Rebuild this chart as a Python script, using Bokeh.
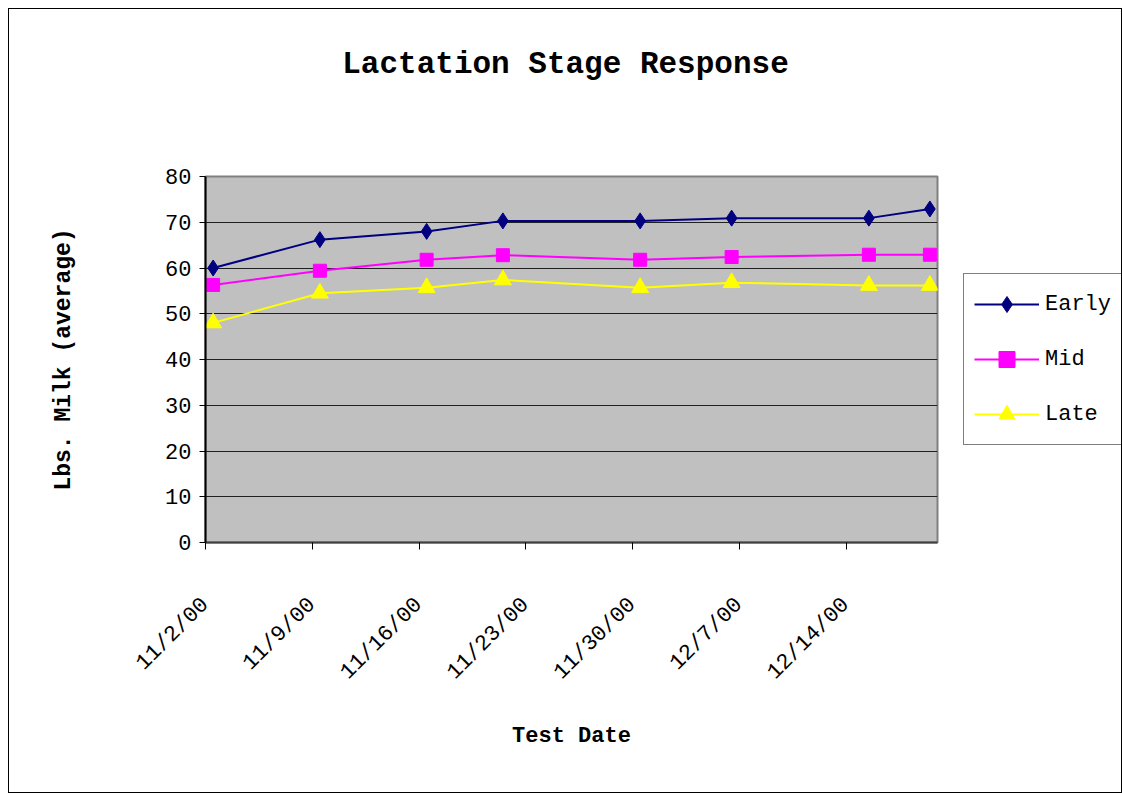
import pandas as pd
from bokeh.plotting import figure
from bokeh.models import Range1d, FixedTicker, Legend, LegendItem
from bokeh.layouts import column, row
from bokeh.embed import file_html
from bokeh.resources import INLINE
from math import pi

# ---- data ----
test_dates = ["2000-11-02", "2000-11-09", "2000-11-16", "2000-11-21",
              "2000-11-30", "2000-12-06", "2000-12-15", "2000-12-19"]
early = [60.0, 66.2, 68.0, 70.3, 70.3, 70.9, 70.9, 72.9]
mid = [56.3, 59.4, 61.8, 62.8, 61.8, 62.4, 62.9, 62.9]
late = [48.0, 54.5, 55.7, 57.4, 55.7, 56.8, 56.2, 56.2]
series_names = ["Early", "Mid", "Late"]
tick_dates = ["2000-11-02", "2000-11-09", "2000-11-16", "2000-11-23",
              "2000-11-30", "2000-12-07", "2000-12-14"]
tick_labels = ["11/2/00", "11/9/00", "11/16/00", "11/23/00",
               "11/30/00", "12/7/00", "12/14/00"]
y_ticks = [0, 10, 20, 30, 40, 50, 60, 70, 80]
axis_start, axis_end = "2000-11-02", "2000-12-20"

# points sit in the middle of their day slot (Excel date axis)
x = pd.to_datetime(test_dates) + pd.Timedelta(hours=12)

MONO = "Liberation Mono"
styles = [
    dict(color="#000080", marker="diamond", size=16),
    dict(color="#FF00FF", marker="square", size=13),
    dict(color="#FFFF00", marker="triangle", size=17),
]
series = [early, mid, late]

# ---------- title strip ----------
pt = figure(width=1112, height=120, output_backend="svg", toolbar_location=None,
            x_range=Range1d(0, 1), y_range=Range1d(0, 1),
            x_axis_location=None, y_axis_location=None,
            min_border_left=0, min_border_right=0,
            min_border_top=0, min_border_bottom=0)
pt.outline_line_color = None
pt.xgrid.visible = False
pt.ygrid.visible = False
pt.title.text = "Lactation Stage Response"
pt.title.align = "center"
pt.title.offset = 6
pt.title.text_font = MONO
pt.title.text_font_style = "bold"
pt.title.text_font_size = "31px"
pt.title.text_color = "black"
pt.title.standoff = 70

# ---------- main chart ----------
p = figure(width=933, height=663, output_backend="svg", toolbar_location=None,
           x_axis_type="datetime",
           x_range=Range1d(pd.Timestamp(axis_start), pd.Timestamp(axis_end)),
           y_range=Range1d(0, 80),
           min_border_left=196, min_border_right=5,
           min_border_top=47, min_border_bottom=250)

p.background_fill_color = "#C0C0C0"
p.border_fill_color = "white"
p.outline_line_color = "#808080"
p.outline_line_width = 2

p.xgrid.grid_line_color = None
p.ygrid.grid_line_color = "#202020"
p.ygrid.grid_line_width = 1
p.ygrid.ticker = FixedTicker(ticks=y_ticks)

tick_ms = [float(pd.Timestamp(d).value // 10**6) for d in tick_dates]
p.xaxis.ticker = FixedTicker(ticks=tick_ms)
p.xaxis.major_label_overrides = {t: l for t, l in zip(tick_ms, tick_labels)}
p.xaxis.major_label_orientation = pi / 4
p.xaxis.minor_tick_line_color = None
p.xaxis.major_tick_out = 7
p.xaxis.major_tick_in = 0
p.xaxis.axis_line_color = "#404040"
p.xaxis.axis_line_width = 2
p.xaxis.major_label_text_font = MONO
p.xaxis.major_label_text_font_size = "22px"
p.xaxis.major_label_text_color = "black"
p.xaxis.major_label_standoff = 52
p.xaxis.axis_label = "Test Date"
p.xaxis.axis_label_text_font = MONO
p.xaxis.axis_label_text_font_style = "bold"
p.xaxis.axis_label_text_font_size = "22px"
p.xaxis.axis_label_text_color = "black"
p.xaxis.axis_label_standoff = 27

p.yaxis.ticker = FixedTicker(ticks=y_ticks)
p.yaxis.minor_tick_line_color = None
p.yaxis.major_tick_out = 6
p.yaxis.major_tick_in = 0
p.yaxis.axis_line_color = "black"
p.yaxis.axis_line_width = 2
p.yaxis.major_label_text_font = MONO
p.yaxis.major_label_text_font_size = "22px"
p.yaxis.major_label_text_color = "black"
p.yaxis.major_label_standoff = 8
p.yaxis.axis_label = "Lbs. Milk (average)"
p.yaxis.axis_label_text_font = MONO
p.yaxis.axis_label_text_font_style = "bold"
p.yaxis.axis_label_text_font_size = "23px"
p.yaxis.axis_label_text_color = "black"
p.yaxis.axis_label_standoff = 85

for vals, st in zip(series, styles):
    p.line(x, vals, line_color=st["color"], line_width=2)
    p.scatter(x, vals, marker=st["marker"], size=st["size"],
              fill_color=st["color"], line_color=st["color"])

# ---------- legend strip (its frame aligns with the main chart's frame) ----------
# the series are drawn again here only to feed the legend; they fall outside
# this strip's (0..1) ranges, so only their legend swatches are visible
pl = figure(width=179, height=663, output_backend="svg", toolbar_location=None,
            x_range=Range1d(0, 1), y_range=Range1d(0, 1),
            x_axis_location=None, y_axis_location=None,
            min_border_left=0, min_border_right=0,
            min_border_top=0, min_border_bottom=0)
pl.outline_line_color = None
pl.xgrid.visible = False
pl.ygrid.visible = False
items = []
for name, vals, st in zip(series_names, series, styles):
    lr = pl.line(x, vals, line_color=st["color"], line_width=2)
    mr = pl.scatter(x, vals, marker=st["marker"], size=st["size"],
                    fill_color=st["color"], line_color=st["color"])
    items.append(LegendItem(label=name, renderers=[lr, mr]))

legend = Legend(items=items, location=(21, 97), margin=0)
legend.border_line_color = "black"
legend.border_line_width = 1
legend.background_fill_color = "white"
legend.background_fill_alpha = 1
legend.label_text_font = MONO
legend.label_text_font_size = "22px"
legend.label_text_color = "black"
legend.glyph_width = 65
legend.glyph_height = 40
legend.label_height = 40
legend.spacing = 15
legend.padding = 10
legend.label_standoff = 6
pl.add_layout(legend, "center")

layout = column(pt, row(p, pl, spacing=0), spacing=0)
layout.styles = {"border": "1px solid #000000", "margin": "8px"}

open("out.html", "w").write(file_html(layout, INLINE))
